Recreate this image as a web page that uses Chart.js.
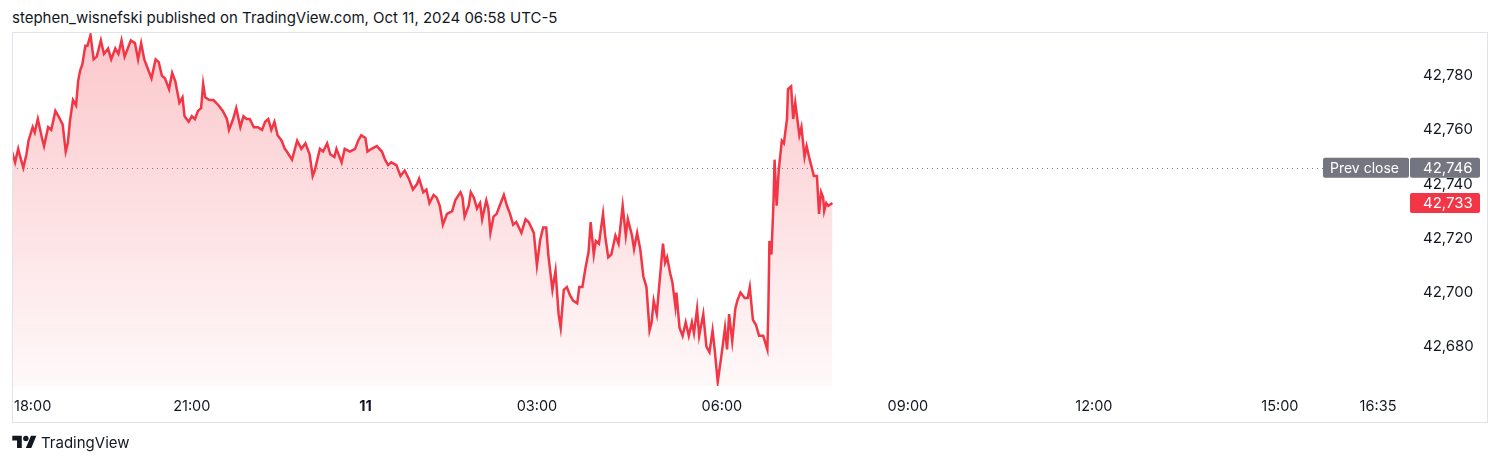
<!DOCTYPE html>
<html>
<head>
<meta charset="utf-8">
<title>Oct 11 intraday</title>
<script src="https://cdn.jsdelivr.net/npm/chart.js@4.4.1/dist/chart.umd.min.js"></script>
<style>
    html, body { margin: 0; padding: 0; background: #fff; }
    body { width: 1500px; height: 465px; position: relative; overflow: hidden; font-family: Inter, "Noto Sans", sans-serif; color: #131722; }
    #title { position: absolute; left: 12px; top: 8px; font-size: 15px; white-space: nowrap; }
    #chart { position: absolute; left: 0; top: 0; }
    #brand { position: absolute; left: 12px; top: 433px; font-size: 15px; display: flex; align-items: center; gap: 4px; }
</style>
</head>
<body>
<div id="title">stephen_wisnefski published on TradingView.com, Oct 11, 2024 06:58 UTC-5</div>
<canvas id="chart" width="1500" height="465"></canvas>
<div id="brand">
    <svg width="25" height="19" viewBox="0 0 36 28"><path d="M14 22H7V11H0V4h14v18zM28 22h-8l7.5-18h8L28 22z" fill="#131722"/><circle cx="20" cy="8" r="4" fill="#131722"/></svg>
    <span>TradingView</span>
</div>
<script>
// Dữ liệu: số thứ tự nến (phút) và giá
const bars = [0,3,6,8,11,14,16,20,22,25,29,31,35,38,42,45,49,52,54,56,59,62,64,66,68,71,73,76,79,82,
    86,89,93,96,100,103,106,109,115,119,122,125,128,131,135,139,142,145,148,152,155,158,162,165,167,171,174,177,180,183,
    185,187,191,195,200,204,208,210,214,217,221,224,227,230,234,238,242,245,248,251,254,257,261,264,266,271,276,280,284,288,
    291,293,298,301,305,308,312,314,319,322,327,332,335,338,342,344,348,353,358,361,364,367,372,376,380,384,388,392,394,398,
    401,404,408,411,414,417,421,426,429,434,436,438,442,444,447,450,453,455,459,461,463,466,469,473,476,479,482,485,488,493,
    497,500,505,508,511,514,517,519,523,526,529,531,534,537,540,543,547,549,552,555,558,560,563,565,568,572,574,577,580,584,
    587,591,594,596,600,602,605,608,611,614,617,619,621,624,626,630,632,634,637,639,642,643,646,649,652,655,658,660,663,665,
    669,672,675,678,680,683,687,690,692,694,697,700,702,705,709,712,714,717,720,723,727,731,732,733,735,737,738,740,742,745,
    747,750,751,754,756,758,760,762,764,767,769,772,774,776,779,781,783,785,786,788,790,794];
const prices = [42752,42748,42753,42750,42746,42751,42756,42761,42759,42764,42757,42754,42761,42760,42767,42765,42762,42752,42755,42763,
    42771,42769,42778,42782,42784,42791,42791,42795,42786,42787,42793,42788,42790,42786,42790,42788,42793,42787,42793,42792,
    42786,42792,42786,42783,42779,42786,42785,42780,42779,42775,42781,42778,42770,42772,42765,42763,42765,42764,42767,42768,
    42777,42772,42771,42771,42769,42767,42764,42760,42764,42768,42761,42765,42764,42764,42761,42761,42760,42763,42764,42760,
    42763,42758,42756,42753,42752,42749,42756,42753,42755,42751,42743,42745,42753,42752,42755,42751,42750,42753,42748,42753,
    42752,42753,42756,42758,42757,42752,42753,42754,42752,42749,42747,42748,42747,42743,42745,42742,42738,42740,42742,42737,
    42738,42733,42736,42735,42732,42725,42729,42730,42734,42737,42735,42728,42732,42737,42735,42731,42733,42727,42734,42731,
    42722,42728,42729,42733,42736,42732,42729,42725,42726,42722,42727,42726,42722,42710,42719,42724,42724,42714,42701,42708,
    42692,42687,42701,42702,42699,42697,42696,42702,42702,42709,42715,42726,42714,42719,42718,42729,42721,42713,42714,42721,
    42718,42732,42721,42727,42721,42716,42722,42716,42706,42702,42686,42689,42697,42692,42701,42718,42711,42713,42707,42704,
    42695,42700,42687,42684,42689,42684,42689,42685,42694,42684,42692,42680,42678,42686,42679,42667,42678,42687,42679,42692,
    42682,42694,42697,42700,42698,42698,42702,42690,42688,42684,42684,42679,42694,42719,42714,42734,42749,42732,42745,42756,
    42755,42764,42775,42776,42764,42770,42764,42758,42761,42750,42754,42749,42746,42743,42743,42729,42737,42735,42730,42733,
    42732,42733];
const tickBars = [20, 174, 342, 508, 687, 867, 1047, 1227, 1322];
const tickLabels = ['18:00', '21:00', '11', '03:00', '06:00', '09:00', '12:00', '15:00', '16:35'];
const priceTicks = [42680, 42700, 42720, 42740, 42760, 42780];
const prevClose = 42746;
const lastPrice = prices[prices.length - 1];

const RED = '#F23645';
const TEXT = '#131722';
const FONT = 'Inter, "Noto Sans", sans-serif';
const fmt = v => v.toLocaleString('en-US');

// Đường chấm "Prev close" + các nhãn giá bên phải
const overlay = {
    id: 'overlay',
    beforeDatasetsDraw(chart) {
        const {ctx, chartArea, scales: {y}} = chart;
        const yp = Math.round(y.getPixelForValue(prevClose)) + 0.5;
        ctx.save();
        ctx.setLineDash([1, 4]);
        ctx.strokeStyle = '#787b86';
        ctx.lineWidth = 1;
        ctx.beginPath();
        ctx.moveTo(chartArea.left, yp);
        ctx.lineTo(1323, yp);
        ctx.stroke();
        ctx.restore();
    },
    afterDraw(chart) {
        const {ctx, scales: {y}} = chart;
        ctx.save();
        // khung
        ctx.strokeStyle = '#e0e3eb';
        ctx.lineWidth = 1;
        ctx.strokeRect(12.5, 32.5, 1475, 390);

        ctx.font = '14px ' + FONT;
        ctx.textBaseline = 'middle';
        ctx.textAlign = 'left';
        const label = (x, w, yc, bg, text, tx, size) => {
            ctx.fillStyle = bg;
            ctx.beginPath();
            ctx.roundRect(x, yc - 10, w, 20, 2);
            ctx.fill();
            ctx.font = size + 'px ' + FONT;
            ctx.fillStyle = '#fff';
            ctx.fillText(text, tx, yc + 0.5);
        };
        const yp = y.getPixelForValue(prevClose);
        label(1323, 86, yp, '#737680', 'Prev close', 1330, 14);
        label(y.left + 2, 70, yp, '#737680', fmt(prevClose), y.left + 15, 15);
        label(y.left + 2, 70, y.getPixelForValue(lastPrice), RED, fmt(lastPrice), y.left + 15, 15);
        ctx.restore();
    }
};

document.addEventListener('DOMContentLoaded', () => {
    new Chart(document.getElementById('chart'), {
        type: 'line',
        data: {
            datasets: [{
                data: bars.map((b, i) => ({x: b, y: prices[i]})),
                borderColor: RED,
                borderWidth: 2.5,
                pointRadius: 0,
                tension: 0,
                fill: 'start',
                backgroundColor: c => {
                    const area = c.chart.chartArea;
                    if (!area) return 'rgba(242,54,69,0.15)';
                    const g = c.chart.ctx.createLinearGradient(0, area.top, 0, area.bottom);
                    g.addColorStop(0, 'rgba(242,54,69,0.28)');
                    g.addColorStop(1, 'rgba(242,54,69,0.03)');
                    return g;
                }
            }]
        },
        options: {
            responsive: false,
            animation: false,
            layout: {padding: {left: 12, top: 32, right: 13, bottom: 43}},
            plugins: {legend: {display: false}, tooltip: {enabled: false}},
            scales: {
                x: {
                    type: 'linear', min: 0, max: 1351,
                    grid: {display: false, drawTicks: false}, border: {display: false},
                    afterBuildTicks: s => { s.ticks = tickBars.map(v => ({value: v})); },
                    afterFit: s => { s.height = 36; },
                    ticks: {
                        autoSkip: false, maxRotation: 0, padding: 12, color: TEXT,
                        font: c => ({size: 14.5, family: FONT, weight: c.tick && c.tick.label === '11' ? 'bold' : 'normal'}),
                        callback: v => tickLabels[tickBars.indexOf(v)]
                    }
                },
                y: {
                    position: 'right', min: 42665.5, max: 42796.1,
                    grid: {display: false, drawTicks: false}, border: {display: false},
                    afterBuildTicks: s => { s.ticks = priceTicks.map(v => ({value: v})); },
                    afterFit: s => { s.width = 79; },
                    ticks: {padding: 15, color: TEXT, font: {size: 15, family: FONT}, callback: v => fmt(v)}
                }
            }
        },
        plugins: [overlay]
    });
});
</script>
</body>
</html>
